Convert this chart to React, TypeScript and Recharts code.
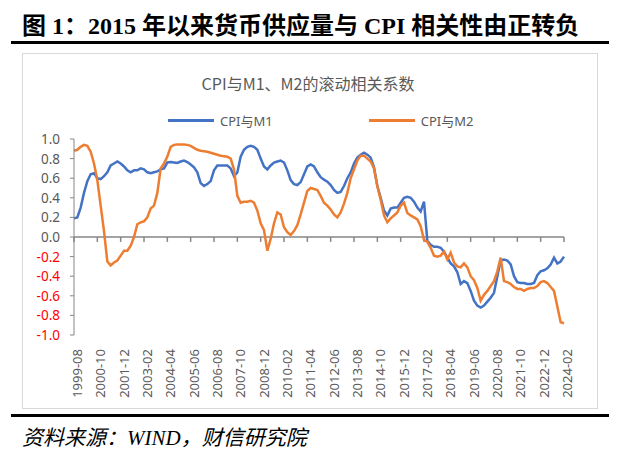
import React from 'react';
import { LineChart, Line, XAxis, YAxis, Legend, ReferenceLine } from 'recharts';

// rolling correlation, bimonthly from 1999-08 to 2024-02
const m1Corr = [
  0.19, 0.20, 0.30, 0.45, 0.57, 0.64, 0.65, 0.60, 0.59, 0.62,
  0.66, 0.73, 0.75, 0.77, 0.75, 0.72, 0.68, 0.66, 0.68, 0.68,
  0.70, 0.69, 0.66, 0.65, 0.66, 0.67, 0.69, 0.70, 0.76, 0.765,
  0.76, 0.755, 0.77, 0.78, 0.765, 0.74, 0.71, 0.66, 0.55, 0.52,
  0.54, 0.57, 0.68, 0.73, 0.73, 0.73, 0.73, 0.70, 0.62, 0.66,
  0.82, 0.89, 0.92, 0.93, 0.92, 0.89, 0.80, 0.72, 0.69, 0.73,
  0.76, 0.77, 0.78, 0.76, 0.68, 0.58, 0.54, 0.53, 0.56, 0.64,
  0.72, 0.74, 0.72, 0.66, 0.61, 0.585, 0.565, 0.53, 0.48, 0.45,
  0.46, 0.52, 0.60, 0.66, 0.75, 0.81, 0.84, 0.86, 0.84, 0.81,
  0.71, 0.52, 0.40, 0.27, 0.22, 0.29, 0.30, 0.30, 0.35, 0.40,
  0.41, 0.40, 0.36, 0.30, 0.26, 0.36, -0.04, -0.08, -0.10, -0.10,
  -0.11, -0.15, -0.21, -0.27, -0.30, -0.36, -0.48, -0.45, -0.47, -0.55,
  -0.65, -0.70, -0.72, -0.70, -0.66, -0.62, -0.57, -0.40, -0.24, -0.23,
  -0.24, -0.28, -0.40, -0.46, -0.47, -0.47, -0.48, -0.48, -0.47, -0.39,
  -0.35, -0.34, -0.32, -0.28, -0.21, -0.27, -0.25, -0.20,
];

const m2Corr = [
  0.88, 0.89, 0.92, 0.94, 0.93, 0.87, 0.75, 0.58, 0.32, 0.06,
  -0.25, -0.29, -0.26, -0.24, -0.19, -0.14, -0.14, -0.09, 0.00, 0.13,
  0.15, 0.16, 0.20, 0.29, 0.32, 0.45, 0.70, 0.75, 0.82, 0.92,
  0.94, 0.945, 0.945, 0.945, 0.94, 0.93, 0.91, 0.89, 0.88, 0.875,
  0.87, 0.86, 0.85, 0.84, 0.83, 0.825, 0.82, 0.80, 0.69, 0.42,
  0.35, 0.36, 0.36, 0.37, 0.35, 0.27, 0.14, 0.07, -0.14, -0.02,
  0.14, 0.25, 0.23, 0.10, 0.05, 0.02, 0.06, 0.12, 0.23, 0.35,
  0.47, 0.50, 0.49, 0.48, 0.42, 0.35, 0.32, 0.28, 0.23, 0.20,
  0.25, 0.34, 0.45, 0.60, 0.69, 0.78, 0.83, 0.83, 0.80, 0.77,
  0.70, 0.52, 0.38, 0.22, 0.15, 0.19, 0.22, 0.25, 0.32, 0.35,
  0.245, 0.22, 0.20, 0.18, 0.11, -0.03, -0.05, -0.11, -0.19, -0.20,
  -0.19, -0.15, -0.23, -0.16, -0.26, -0.30, -0.31, -0.27, -0.31, -0.40,
  -0.44, -0.52, -0.65, -0.59, -0.55, -0.50, -0.45, -0.35, -0.21, -0.45,
  -0.46, -0.48, -0.51, -0.53, -0.53, -0.55, -0.53, -0.52, -0.52, -0.50,
  -0.46, -0.45, -0.47, -0.51, -0.55, -0.71, -0.87, -0.88,
];

const tickLabels = [
  '1999-08', '2000-10', '2001-12', '2003-02', '2004-04', '2005-06', '2006-08',
  '2007-10', '2008-12', '2010-02', '2011-04', '2012-06', '2013-08', '2014-10',
  '2015-12', '2017-02', '2018-04', '2019-06', '2020-08', '2021-10', '2022-12', '2024-02',
];

const yTicks = [-1, -0.8, -0.6, -0.4, -0.2, 0, 0.2, 0.4, 0.6, 0.8, 1];

const monthLabel = (i: number) => {
  const t = 7 + i * 2;
  return `${1999 + Math.floor(t / 12)}-${String((t % 12) + 1).padStart(2, '0')}`;
};

const data = m1Corr.map((v, i) => ({ month: monthLabel(i), m1: v, m2: m2Corr[i] }));

const sansFont = '"Noto Sans", "Noto Sans CJK SC", sans-serif';
const gray = '#595959';
const axisGray = '#868686';

const YTick = (props: any) => {
  const { x, y, payload } = props;
  return (
    <text x={x} y={y} dy={5} textAnchor="end" fontSize={13.5} fontFamily={sansFont}
      fill={payload.value < 0 ? '#ff0000' : gray}>
      {payload.value.toFixed(1)}
    </text>
  );
};

const XTick = (props: any) => {
  const { x, y, payload } = props;
  return (
    <text x={x + 3} y={y} transform={`rotate(-90, ${x + 3}, ${y})`} textAnchor="end"
      dominantBaseline="central" fontSize={13} fontFamily={sansFont} fill={gray}>
      {payload.value}
    </text>
  );
};

const LegendContent = (props: any) => (
  <div style={{ display: 'flex', gap: 96, fontFamily: sansFont, fontSize: 13, color: gray }}>
    {(props.payload || []).map((entry: any) => (
      <div key={entry.value} style={{ display: 'flex', alignItems: 'center' }}>
        <span style={{ display: 'inline-block', width: 46, height: 3, background: entry.color, marginRight: 6 }} />
        <span>{entry.value}</span>
      </div>
    ))}
  </div>
);

const App: React.FC = () => {
  return (
    <div style={{ position: 'absolute', left: 0, top: 0, width: 622, height: 456, background: '#fff' }}>
      <div style={{
        position: 'absolute', left: 22, top: 6, fontSize: 24, fontWeight: 'bold', whiteSpace: 'nowrap',
        fontFamily: '"Liberation Serif", "Noto Sans CJK SC", serif', color: '#000',
      }}>
        图 1：2015 年以来货币供应量与 CPI 相关性由正转负
      </div>
      <div style={{ position: 'absolute', left: 11, top: 41, width: 598, height: 3, background: '#000' }} />
      <div style={{
        position: 'absolute', left: 22, top: 53, width: 576, height: 356,
        border: '1px solid #d9d9d9', boxSizing: 'border-box',
      }} />
      <div style={{
        position: 'absolute', left: 0, width: 616, top: 71, textAlign: 'center',
        fontFamily: '"Noto Sans CJK SC", sans-serif', fontSize: 16, color: gray,
      }}>
        CPI与M1、M2的滚动相关系数
      </div>
      <div style={{ position: 'absolute', left: 0, top: 0 }}>
        <LineChart width={622} height={456} data={data}
          margin={{ top: 139, right: 58, bottom: 61, left: 34 }}>
          <XAxis dataKey="month" ticks={tickLabels} interval={0} axisLine={false} tickLine={false}
            height={60} tick={<XTick />} tickMargin={8} />
          <YAxis domain={[-1, 1]} ticks={yTicks} interval={0} width={40} tick={<YTick />}
            axisLine={{ stroke: axisGray }} tickLine={{ stroke: axisGray }} tickSize={4} tickMargin={10} />
          <ReferenceLine y={0} stroke={axisGray} strokeWidth={1.5} />
          {tickLabels.map((t) => (
            <ReferenceLine key={t} segment={[{ x: t, y: 0 }, { x: t, y: -0.05 }]} stroke={axisGray} strokeWidth={1.5} />
          ))}
          <Legend verticalAlign="middle" align="center" layout="horizontal" content={<LegendContent />}
            wrapperStyle={{ top: 111, left: 168, width: 340 }} />
          <Line type="linear" dataKey="m1" name="CPI与M1" stroke="#4472c4" strokeWidth={2.5} dot={false}
            isAnimationActive={false} />
          <Line type="linear" dataKey="m2" name="CPI与M2" stroke="#ed7d31" strokeWidth={2.5} dot={false}
            isAnimationActive={false} />
        </LineChart>
      </div>
      <div style={{
        position: 'absolute', left: 11, top: 414, width: 598, height: 3, background: '#000',
      }} />
      <div style={{
        position: 'absolute', left: 22, top: 421, fontSize: 21, fontStyle: 'italic', whiteSpace: 'nowrap',
        fontFamily: '"Liberation Serif", "Noto Sans CJK SC", serif', color: '#000',
      }}>
        资料来源：WIND，财信研究院
      </div>
    </div>
  );
};

export default App;
